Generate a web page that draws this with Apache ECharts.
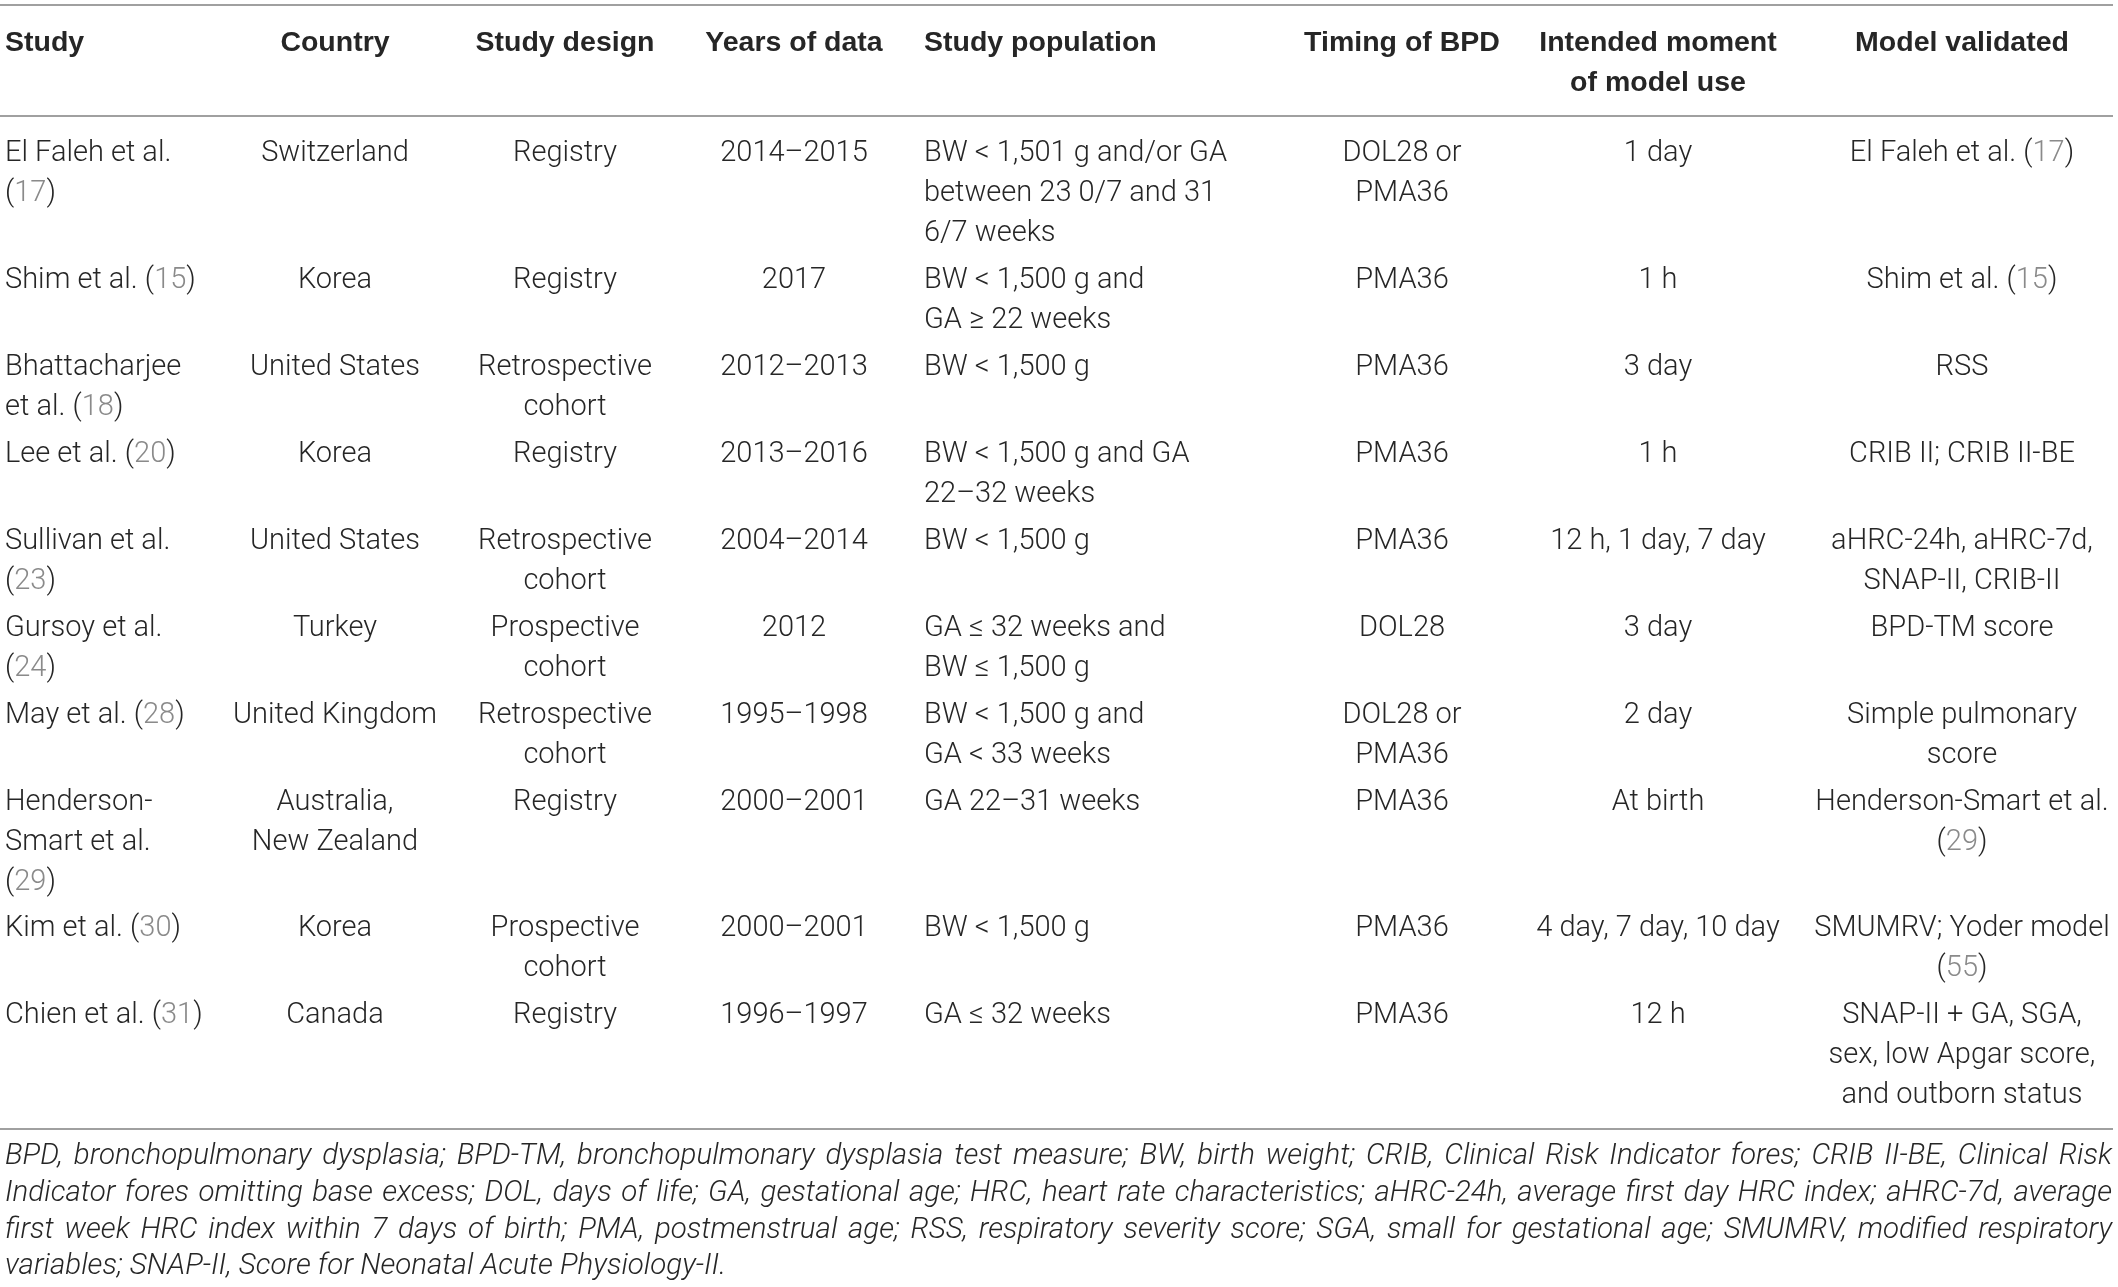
<!DOCTYPE html>
<html>
<head>
<meta charset="utf-8">
<script src="https://cdn.jsdelivr.net/npm/echarts@6/dist/echarts.min.js"></script>
<style>
html, body { margin: 0; padding: 0; background: #fff; }
#chart { width: 2118px; height: 1287px; }
</style>
</head>
<body>
<div id="chart"></div>
<script>
// table content, one array per column
var headers = ['Study', 'Country', 'Study design', 'Years of data', 'Study population', 'Timing of BPD', 'Intended moment\nof model use', 'Model validated'];
var studies = ['El Faleh et al.\n(17)', 'Shim et al. (15)', 'Bhattacharjee\net al. (18)', 'Lee et al. (20)', 'Sullivan et al.\n(23)', 'Gursoy et al.\n(24)', 'May et al. (28)', 'Henderson-\nSmart et al.\n(29)', 'Kim et al. (30)', 'Chien et al. (31)'];
var countries = ['Switzerland', 'Korea', 'United States', 'Korea', 'United States', 'Turkey', 'United Kingdom', 'Australia,\nNew Zealand', 'Korea', 'Canada'];
var designs = ['Registry', 'Registry', 'Retrospective\ncohort', 'Registry', 'Retrospective\ncohort', 'Prospective\ncohort', 'Retrospective\ncohort', 'Registry', 'Prospective\ncohort', 'Registry'];
var years = ['2014–2015', '2017', '2012–2013', '2013–2016', '2004–2014', '2012', '1995–1998', '2000–2001', '2000–2001', '1996–1997'];
var populations = ['BW < 1,501 g and/or GA\nbetween 23 0/7 and 31\n6/7 weeks', 'BW < 1,500 g and\nGA ≥ 22 weeks', 'BW < 1,500 g', 'BW < 1,500 g and GA\n22–32 weeks', 'BW < 1,500 g', 'GA ≤ 32 weeks and\nBW ≤ 1,500 g', 'BW < 1,500 g and\nGA < 33 weeks', 'GA 22–31 weeks', 'BW < 1,500 g', 'GA ≤ 32 weeks'];
var timings = ['DOL28 or\nPMA36', 'PMA36', 'PMA36', 'PMA36', 'PMA36', 'DOL28', 'DOL28 or\nPMA36', 'PMA36', 'PMA36', 'PMA36'];
var moments = ['1 day', '1 h', '3 day', '1 h', '12 h, 1 day, 7 day', '3 day', '2 day', 'At birth', '4 day, 7 day, 10 day', '12 h'];
var models = ['El Faleh et al. (17)', 'Shim et al. (15)', 'RSS', 'CRIB II; CRIB II-BE', 'aHRC-24h, aHRC-7d,\nSNAP-II, CRIB-II', 'BPD-TM score', 'Simple pulmonary\nscore', 'Henderson-Smart et al.\n(29)', 'SMUMRV; Yoder model\n(55)', 'SNAP-II + GA, SGA,\nsex, low Apgar score,\nand outborn status'];
var footnote = [
    'BPD, bronchopulmonary dysplasia; BPD-TM, bronchopulmonary dysplasia test measure; BW, birth weight; CRIB, Clinical Risk Indicator fores; CRIB II-BE, Clinical Risk',
    'Indicator fores omitting base excess; DOL, days of life; GA, gestational age; HRC, heart rate characteristics; aHRC-24h, average first day HRC index; aHRC-7d, average',
    'first week HRC index within 7 days of birth; PMA, postmenstrual age; RSS, respiratory severity score; SGA, small for gestational age; SMUMRV, modified respiratory',
    'variables; SNAP-II, Score for Neonatal Acute Physiology-II.'
];

var columns = [studies, countries, designs, years, populations, timings, moments, models];

// layout (pixels)
var W = 2118, H = 1287;
var colX = [5, 335, 565, 794, 924, 1402, 1658, 1962];
var colAlign = ['left', 'center', 'center', 'center', 'left', 'center', 'center', 'center'];
var FONT = 'Roboto';
var HEAD_FONT = 'Liberation Sans';
var FS = 29;
var HEAD_FS = 28.5;
var LH = 40;
var PAD = 6.9;
var TXT = '#262626';
var CITE = '#8a8a8a';
var RULE = '#a0a0a0';

// first-line centre of every body row, from the number of lines in the row
var rowY = [];
var rowLines = [];
var y = 154;
for (var r = 0; r < studies.length; r++) {
    rowY.push(y);
    var n = 1;
    columns.forEach(function (col) { n = Math.max(n, col[r].split('\n').length); });
    rowLines.push(n);
    y += n * LH + PAD;
}
var last = rowY.length - 1;
var bottomRule = rowY[last] + (rowLines[last] - 1) * LH + 33;

var cells = [];
headers.forEach(function (h, c) { cells.push({ value: [c, -1] }); });
for (var r = 0; r < studies.length; r++) {
    for (var c = 0; c < columns.length; c++) cells.push({ value: [c, r] });
}

// citation numbers are drawn in grey
function richify(s) {
    return s.replace(/\((\d+)\)/g, '({c|$1})');
}

var richStyle = {
    c: { fill: CITE, fontFamily: FONT, fontSize: FS, fontWeight: 300, lineHeight: LH }
};

var myChart = echarts.init(document.getElementById('chart'));

// justified italic footnote, word by word
var ctx = document.createElement('canvas').getContext('2d');
var FN_FS = 29.5;
var fnFont = 'italic 300 ' + FN_FS + 'px ' + FONT;
ctx.font = fnFont;
var fnLeft = 5, fnRight = 2112, fnTop = 1157, fnLH = 36.7;
var fnGraphics = [];
footnote.forEach(function (line, i) {
    var words = line.split(' ');
    var widths = words.map(function (w) { return ctx.measureText(w).width; });
    var total = widths.reduce(function (a, b) { return a + b; }, 0);
    var gap = ctx.measureText(' ').width;
    if (i < footnote.length - 1 && words.length > 1) gap = (fnRight - fnLeft - total) / (words.length - 1);
    var x = fnLeft;
    words.forEach(function (w, k) {
        fnGraphics.push({
            type: 'text', x: x, y: fnTop + i * fnLH,
            style: { text: w, font: fnFont, fill: TXT, textVerticalAlign: 'middle' }
        });
        x += widths[k] + gap;
    });
});

var option = {
    animation: false,
    backgroundColor: '#fff',
    grid: { left: 0, right: 0, top: 0, bottom: 0 },
    xAxis: { type: 'value', min: 0, max: W, show: false },
    yAxis: { type: 'value', min: 0, max: H, inverse: true, show: false },
    graphic: fnGraphics,
    series: [
        {
            type: 'custom',
            name: 'rules',
            data: [5, 116, bottomRule],
            renderItem: function (params, api) {
                var p0 = api.coord([0, api.value(0)]);
                var p1 = api.coord([2113, api.value(0)]);
                return {
                    type: 'line',
                    shape: { x1: p0[0], y1: p0[1], x2: p1[0], y2: p1[1] },
                    style: { stroke: RULE, lineWidth: 2 }
                };
            }
        },
        {
            type: 'custom',
            name: 'cells',
            data: cells,
            renderItem: function (params, api) {
                var c = api.value(0), r = api.value(1);
                var head = r < 0;
                var text = head ? headers[c] : richify(columns[c][r]);
                var cy = head ? 43 : rowY[r];
                var p = api.coord([colX[c], cy - LH / 2]);
                return {
                    type: 'text',
                    x: p[0], y: p[1],
                    style: {
                        text: text,
                        fill: TXT,
                        fontFamily: head ? HEAD_FONT : FONT,
                        fontSize: head ? HEAD_FS : FS,
                        fontWeight: head ? 'bold' : 300,
                        lineHeight: LH,
                        align: colAlign[c],
                        verticalAlign: 'top',
                        rich: head ? null : richStyle
                    }
                };
            }
        }
    ]
};

option && myChart.setOption(option);
</script>
</body>
</html>
